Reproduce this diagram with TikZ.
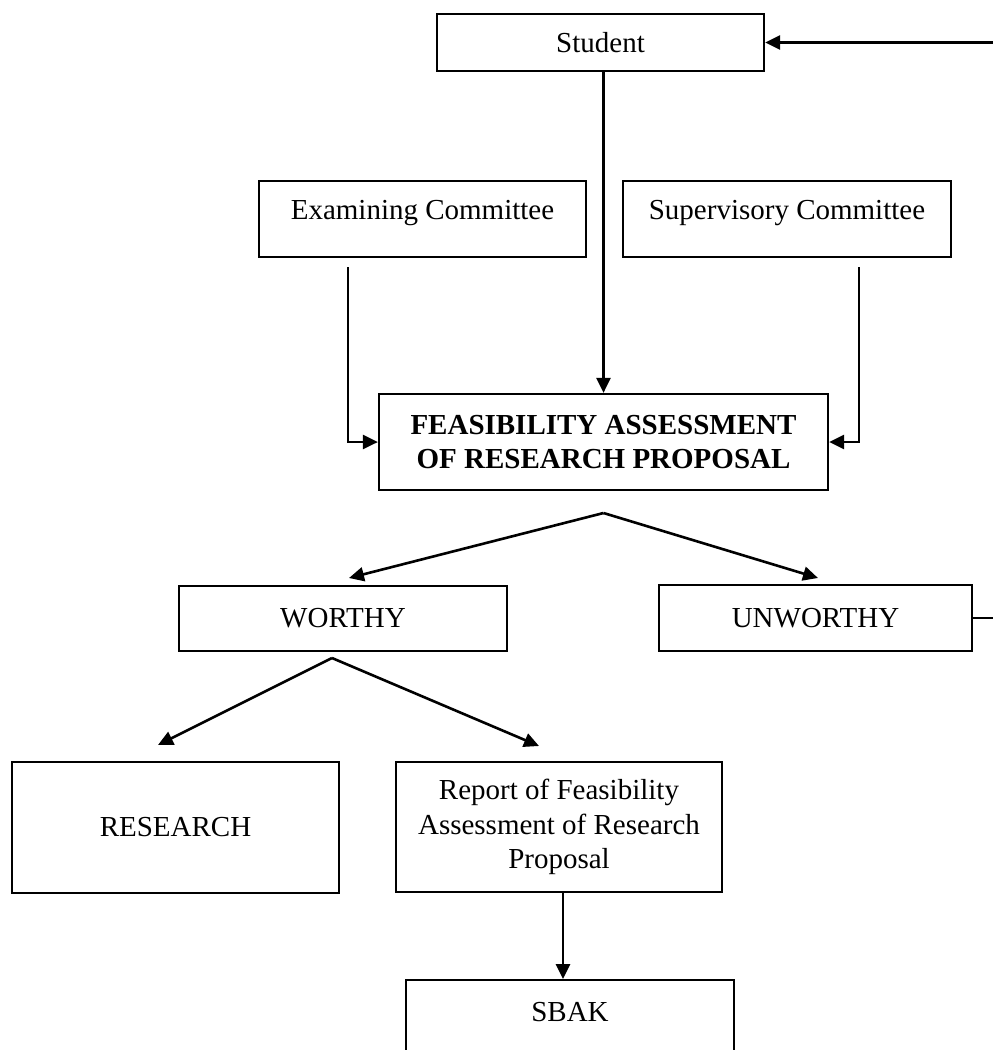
\documentclass[tikz,border=0pt]{standalone}
\usepackage{fontspec}
\setmainfont{Liberation Serif}
\usetikzlibrary{arrows.meta}
\begin{document}
\begin{tikzpicture}[x=1pt,y=-1pt,
  txt/.style={font=\fontsize{29}{34.5}\selectfont},
  box/.style={draw, line width=2.2pt, minimum width=327pt, inner sep=0pt,
    align=center, txt},
  conn/.style={line width=2.6pt},
  arr/.style={conn, -{Triangle[length=15pt,width=14pt]}}]
\clip (0,0) rectangle (993,1050);
\fill[white] (0,0) rectangle (993,1050);

% boxes
\node[box, minimum height=57pt] (student) at (600.5,42.5) {Student};
\node[box, minimum height=76pt, text height=10pt, text depth=10pt] (exam) at (422.5,219) {Examining Committee};
\node[box, minimum width=328pt, minimum height=76pt, text height=10pt, text depth=10pt] (super) at (787,219) {Supervisory Committee};
\node[box, minimum width=449pt, minimum height=96pt,
  font=\fontsize{29}{34.5}\selectfont\bfseries] (feas) at (603.5,442)
  {FEASIBILITY ASSESSMENT\\OF RESEARCH PROPOSAL};
\node[box, minimum width=328pt, minimum height=65pt] (worthy) at (343,618.5) {WORTHY};
\node[box, minimum width=313pt, minimum height=66pt] (unworthy) at (815.5,618) {UNWORTHY};
\node[box, minimum height=131pt] (research) at (175.5,827.5) {RESEARCH};
\node[box, minimum width=326pt, minimum height=130pt] (report) at (559,827)
  {Report of Feasibility\\Assessment of Research\\Proposal};
\node[box, minimum width=328pt, anchor=north, text height=41pt, text depth=60pt] (sbak) at (570,979) {SBAK};

% free ends of connectors
\coordinate (stin) at (1000,42.5);
\coordinate (exfoot) at (348,267);
\coordinate (sufoot) at (859,267);
\coordinate (f1) at (603.5,513);
\coordinate (f1l) at (349,578);
\coordinate (f1r) at (818,578);
\coordinate (uwout) at (1000,614);
\coordinate (f2) at (332,658);
\coordinate (f2l) at (158,745);
\coordinate (f2r) at (539,746);
\coordinate (rs) at (563,0);

% connectors
\draw[arr] (stin) -- (student.east);
\draw[arr] (feas.north |- student.south) -- (feas.north);
\draw[arr] (exfoot) |- (feas.west);
\draw[arr] (sufoot) |- (feas.east);
\draw[arr] (f1) -- (f1l);
\draw[arr] (f1) -- (f1r);
\draw[conn] (unworthy.east) -- (unworthy.east -| uwout);
\draw[arr] (f2) -- (f2l);
\draw[arr] (f2) -- (f2r);
\draw[arr] (report.south -| rs) -- (sbak.north -| rs);
\end{tikzpicture}
\end{document}
